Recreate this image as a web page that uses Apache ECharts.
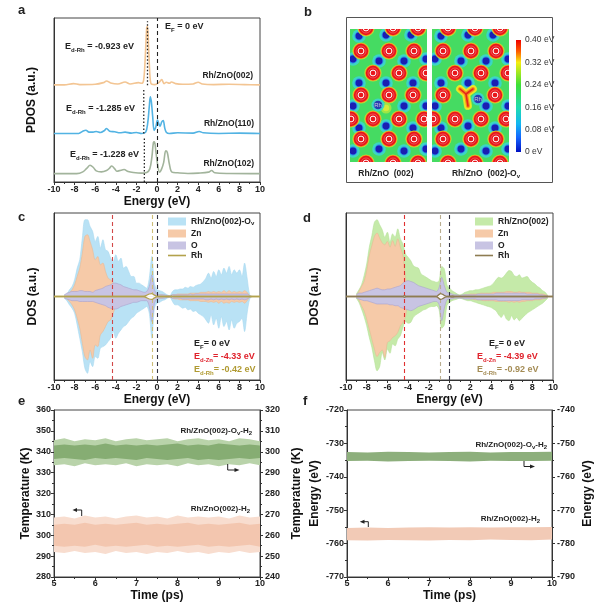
<!DOCTYPE html>
<html><head><meta charset="utf-8">
<script src="https://cdn.jsdelivr.net/npm/echarts@6/dist/echarts.min.js"></script>
<style>html,body{margin:0;padding:0;background:#fff}#main{width:599px;height:612px}</style>
</head><body><div id="main"></div>
<script>
// ---------------- DATA ----------------
// Panel a: PDOS curves [energy eV, offset intensity a.u.]
const pdos002 = [[-10,59.2],[-9,59.2],[-8.1,60],[-7.5,59.4],[-6,59.6],[-5.2,60.6],[-4.9,61.6],[-4.5,60.4],[-3.8,59.8],[-3.1,61],[-2.6,59.8],[-1.8,60.6],[-1.5,60.2],[-1.3,62],[-1.15,75],[-1.0,94],[-0.92,95],[-0.8,80],[-0.65,62],[-0.5,59.6],[-0.2,59.4],[0.2,60.8],[0.45,62.4],[0.7,60],[0.9,60.8],[1.2,60.2],[1.4,61],[1.8,60],[2.5,59.6],[3.5,59.8],[4.0,60.8],[4.4,59.8],[5.5,59.4],[7,59.6],[8.5,59.4],[10,59.2]];
const pdos110 = [[-10,29.6],[-7.6,29.6],[-7.2,31],[-6.9,31.6],[-6.6,30.4],[-6.2,30.4],[-5.9,30.8],[-5.5,30.2],[-5.1,31.4],[-4.9,32.6],[-4.6,31],[-4.1,30.6],[-3.6,30],[-3.1,30.4],[-2.5,29.8],[-2.0,30.2],[-1.5,29.6],[-1.1,30.4],[-0.9,36],[-0.75,46],[-0.65,52],[-0.55,49],[-0.42,40],[-0.28,31.5],[-0.12,33.5],[0.05,37.8],[0.2,35],[0.3,34],[0.45,36.5],[0.6,37.5],[0.75,33],[0.9,30.4],[1.2,29.6],[2,30],[3.5,29.8],[4.1,30.8],[4.5,30],[6,29.6],[8,29.8],[10,29.6]];
const pdos102 = [[-10,5.1],[-7.8,5.1],[-7.2,6.2],[-6.8,8.5],[-6.5,10.2],[-6.2,9],[-5.9,6.8],[-5.4,6.2],[-4.9,7],[-4.6,8.5],[-4.4,9.8],[-4.1,8],[-3.9,6.6],[-3.5,7.2],[-3.2,7.6],[-2.8,6.4],[-2.3,5.8],[-1.5,5.4],[-1.0,5.8],[-0.7,8],[-0.5,15],[-0.35,24],[-0.25,24.5],[-0.1,18],[0.05,11],[0.25,6],[0.45,8],[0.65,12],[0.85,19],[1.0,18],[1.2,11],[1.45,6],[2,5.6],[3,5.2],[4,5.4],[5,6],[5.3,7],[5.6,5.6],[7,5.2],[10,5.1]];
const dBandCentres = [-0.923, -1.285, -1.228];
const dBandSpans = [[59, 98], [29.6, 57], [0, 27.5]];

// Panels c, d: spin-resolved DOS on a common energy grid
const energies = [
 -9,-8.75,-8.5,-8.25, -8,-7.75,-7.5,-7.25, -7,-6.75,-6.5,-6.25, -6,-5.75,-5.5,-5.25,
 -5,-4.75,-4.5,-4.25, -4,-3.75,-3.5,-3.25, -3,-2.75,-2.5,-2.25, -2,-1.75,-1.5,-1.25,
 -1,-0.75,-0.5,-0.25, 0,0.25,0.5,0.75, 1,1.25,1.5,1.75, 2,2.25,2.5,2.75, 3,3.25,3.5,3.75,
 4,4.25,4.5,4.75, 5,5.25,5.5,5.75, 6,6.25,6.5,6.75, 7,7.25,7.5,7.75, 8,8.25,8.5,8.75, 9,9.25,9.5];
const totCUp = [0.02,0.03,0.08,0.12, 0.2,0.34,0.44,0.7, 0.92,0.92,0.84,0.78, 0.66,0.72,0.58,0.68,
 0.56,0.54,0.46,0.42, 0.5,0.42,0.46,0.34, 0.36,0.30,0.24,0.24, 0.16,0.16,0.14,0.12,
 0.1,0.22,0.48,0.16, 0.08,0.07,0.06,0.04, 0.02,0.01,0.06,0.08, 0.08,0.09,0.09,0.11, 0.1,0.12,0.11,0.13,
 0.14,0.15,0.18,0.22, 0.28,0.22,0.30,0.24, 0.32,0.26,0.34,0.28, 0.36,0.26,0.32,0.28, 0.32,0.24,0.40,0.22, 0.02,0,0];
const totCDown = [-0.02,-0.05,-0.1,-0.14, -0.2,-0.34,-0.5,-0.66, -0.86,-0.92,-0.78,-0.84, -0.72,-0.74,-0.62,-0.6,
 -0.58,-0.54,-0.5,-0.42, -0.5,-0.44,-0.4,-0.36, -0.34,-0.3,-0.26,-0.24, -0.2,-0.18,-0.16,-0.14,
 -0.12,-0.2,-0.5,-0.14, -0.08,-0.07,-0.05,-0.04, -0.02,-0.01,-0.06,-0.1, -0.1,-0.12,-0.14,-0.13, -0.16,-0.15,-0.18,-0.17,
 -0.2,-0.22,-0.24,-0.28, -0.32,-0.22,-0.34,-0.26, -0.38,-0.24,-0.36,-0.3, -0.4,-0.28,-0.38,-0.32, -0.3,-0.26,-0.42,-0.2, -0.03,0,0];
const znCUp = [0.01,0.02,0.05,0.08, 0.14,0.24,0.34,0.52, 0.72,0.74,0.66,0.56, 0.44,0.48,0.38,0.4,
 0.3,0.22,0.2,0.16, 0.1,0.08,0.07,0.06, 0.05,0.05,0.04,0.04, 0.04,0.03,0.03,0.03,
 0.03,0.05,0.1,0.04, 0.02,0.02,0.02,0.01, 0.01,0.005,0.02,0.02, 0.03,0.03,0.03,0.03, 0.03,0.04,0.04,0.04,
 0.04,0.05,0.05,0.05, 0.06,0.05,0.06,0.05, 0.06,0.05,0.07,0.05, 0.07,0.05,0.06,0.05, 0.06,0.05,0.07,0.05, 0.01,0,0];
const znCDown = [-0.01,-0.03,-0.06,-0.1, -0.16,-0.26,-0.38,-0.56, -0.72,-0.76,-0.64,-0.74, -0.58,-0.6,-0.46,-0.42,
 -0.36,-0.3,-0.28,-0.2, -0.12,-0.09,-0.07,-0.06, -0.05,-0.05,-0.04,-0.04, -0.04,-0.03,-0.03,-0.03,
 -0.03,-0.05,-0.12,-0.04, -0.02,-0.02,-0.02,-0.01, -0.01,-0.005,-0.02,-0.03, -0.03,-0.04,-0.04,-0.04, -0.04,-0.05,-0.05,-0.05,
 -0.05,-0.06,-0.06,-0.06, -0.07,-0.06,-0.07,-0.06, -0.08,-0.06,-0.08,-0.07, -0.08,-0.06,-0.07,-0.06, -0.07,-0.06,-0.08,-0.05, -0.01,0,0];
const oCUp = [0.02,0.04,0.05,0.06, 0.06,0.06,0.07,0.07, 0.06,0.06,0.06,0.05, 0.07,0.08,0.09,0.1,
 0.12,0.13,0.14,0.16, 0.16,0.15,0.14,0.12, 0.11,0.1,0.09,0.08, 0.08,0.07,0.06,0.05,
 0.06,0.12,0.26,0.08, 0.03,0.02,0.02,0.02, 0.01,0.01,0.02,0.02, 0.02,0.02,0.02,0.02, 0.02,0.03,0.02,0.03,
 0.03,0.03,0.03,0.03, 0.03,0.03,0.03,0.03, 0.03,0.03,0.03,0.03, 0.03,0.03,0.03,0.03, 0.03,0.03,0.03,0.03, 0.01,0,0];
const oCDown = [-0.02,-0.03,-0.04,-0.05, -0.05,-0.05,-0.06,-0.06, -0.06,-0.06,-0.06,-0.06, -0.07,-0.08,-0.09,-0.1,
 -0.11,-0.13,-0.14,-0.15, -0.15,-0.14,-0.12,-0.11, -0.1,-0.09,-0.08,-0.07, -0.07,-0.06,-0.05,-0.05,
 -0.05,-0.12,-0.3,-0.08, -0.03,-0.02,-0.02,-0.02, -0.01,-0.01,-0.02,-0.02, -0.02,-0.02,-0.03,-0.03, -0.03,-0.03,-0.03,-0.03,
 -0.03,-0.03,-0.03,-0.04, -0.04,-0.03,-0.04,-0.03, -0.04,-0.03,-0.04,-0.03, -0.04,-0.03,-0.04,-0.03, -0.04,-0.03,-0.04,-0.03, -0.01,0,0];
const rhCUp = [[-10,0],[-1.3,0],[-1.0,0.015],[-0.75,0.03],[-0.5,0.035],[-0.3,0.02],[-0.1,0.008],[0.1,0],[1.2,0],[1.4,0.006],[1.6,0],[10,0]];
const rhCDown = [[-10,0],[-1.3,0],[-1.0,-0.015],[-0.75,-0.03],[-0.5,-0.035],[-0.3,-0.02],[-0.1,-0.008],[0.1,0],[1.2,0],[1.4,-0.006],[1.6,0],[10,0]];

const totDUp = [0.03,0.08,0.14,0.25, 0.39,0.59,0.73,0.89, 0.92,0.86,0.80,0.71, 0.77,0.65,0.75,0.71,
 0.81,0.69,0.63,0.51, 0.47,0.43,0.37,0.35, 0.34,0.27,0.25,0.23, 0.21,0.19,0.18,0.17,
 0.19,0.36,0.33,0.14, 0.10,0.07,0.05,0.03, 0.02,0.03,0.05,0.06, 0.07,0.07,0.08,0.08, 0.09,0.1,0.11,0.12,
 0.13,0.16,0.2,0.23, 0.22,0.24,0.28,0.31, 0.3,0.25,0.24,0.26, 0.22,0.23,0.24,0.2, 0.17,0.15,0.12,0.1, 0.07,0.05,0.01];
const totDDown = [-0.02,-0.07,-0.15,-0.24, -0.35,-0.49,-0.61,-0.77, -0.89,-0.84,-0.67,-0.76, -0.63,-0.68,-0.57,-0.59,
 -0.51,-0.47,-0.37,-0.3, -0.32,-0.31,-0.25,-0.22, -0.2,-0.18,-0.16,-0.15, -0.13,-0.12,-0.12,-0.11,
 -0.16,-0.38,-0.34,-0.11, -0.07,-0.05,-0.04,-0.03, -0.02,-0.03,-0.04,-0.05, -0.05,-0.06,-0.07,-0.08, -0.09,-0.1,-0.11,-0.12,
 -0.13,-0.15,-0.17,-0.22, -0.25,-0.21,-0.27,-0.29, -0.23,-0.28,-0.25,-0.29, -0.26,-0.23,-0.2,-0.18, -0.16,-0.14,-0.12,-0.1, -0.08,-0.05,-0.02];
const znDUp = [0.01,0.06,0.12,0.18, 0.31,0.49,0.61,0.72, 0.76,0.70,0.64,0.62, 0.66,0.59,0.67,0.60,
 0.69,0.59,0.49,0.22, 0.11,0.09,0.08,0.07, 0.06,0.06,0.05,0.05, 0.04,0.04,0.04,0.04,
 0.04,0.09,0.06,0.03, 0.02,0.02,0.01,0.01, 0.01,0.01,0.02,0.02, 0.03,0.03,0.03,0.03, 0.04,0.04,0.04,0.04,
 0.04,0.05,0.05,0.05, 0.05,0.05,0.06,0.06, 0.06,0.05,0.05,0.06, 0.05,0.05,0.05,0.05, 0.04,0.04,0.04,0.03, 0.03,0.02,0.01];
const znDDown = [-0.01,-0.04,-0.11,-0.17, -0.27,-0.39,-0.51,-0.63, -0.72,-0.67,-0.64,-0.73, -0.55,-0.53,-0.49,-0.47,
 -0.43,-0.35,-0.31,-0.24, -0.06,-0.05,-0.05,-0.05, -0.05,-0.05,-0.04,-0.04, -0.04,-0.04,-0.04,-0.04,
 -0.04,-0.08,-0.06,-0.03, -0.02,-0.02,-0.01,-0.01, -0.01,-0.01,-0.02,-0.02, -0.03,-0.03,-0.04,-0.04, -0.04,-0.05,-0.05,-0.05,
 -0.05,-0.05,-0.06,-0.06, -0.06,-0.06,-0.06,-0.07, -0.06,-0.07,-0.06,-0.07, -0.06,-0.06,-0.05,-0.05, -0.05,-0.04,-0.04,-0.04, -0.03,-0.02,-0.01];
const oDUp = [0.02,0.04,0.04,0.05, 0.06,0.07,0.08,0.09, 0.10,0.09,0.08,0.08, 0.09,0.09,0.10,0.11,
 0.12,0.13,0.16,0.18, 0.19,0.18,0.17,0.15, 0.13,0.12,0.11,0.10, 0.09,0.08,0.07,0.06,
 0.11,0.23,0.13,0.05, 0.04,0.03,0.02,0.02, 0.01,0.02,0.02,0.02, 0.02,0.02,0.02,0.03, 0.03,0.03,0.03,0.03,
 0.03,0.03,0.04,0.04, 0.04,0.04,0.04,0.04, 0.04,0.04,0.04,0.04, 0.04,0.04,0.03,0.03, 0.03,0.03,0.03,0.02, 0.02,0.01,0.01];
const oDDown = [-0.02,-0.03,-0.04,-0.05, -0.05,-0.06,-0.07,-0.08, -0.09,-0.09,-0.09,-0.09, -0.09,-0.1,-0.1,-0.11,
 -0.11,-0.13,-0.14,-0.15, -0.16,-0.17,-0.16,-0.14, -0.12,-0.11,-0.1,-0.09, -0.08,-0.07,-0.06,-0.06,
 -0.1,-0.29,-0.14,-0.04, -0.03,-0.03,-0.02,-0.02, -0.02,-0.02,-0.03,-0.03, -0.03,-0.03,-0.03,-0.04, -0.04,-0.04,-0.04,-0.04,
 -0.04,-0.04,-0.04,-0.05, -0.05,-0.05,-0.05,-0.05, -0.05,-0.05,-0.05,-0.05, -0.04,-0.04,-0.04,-0.04, -0.04,-0.03,-0.03,-0.03, -0.02,-0.02,-0.01];
const rhDUp = [[-10,0],[-4.6,0],[-4.35,0.01],[-4.1,0],[-1.3,0],[-1.05,0.02],[-0.85,0.035],[-0.65,0.025],[-0.45,0.01],[-0.2,0],[0.3,0.006],[0.6,0],[10,0]];
const rhDDown = [[-10,0],[-4.6,0],[-4.35,-0.01],[-4.1,0],[-1.3,0],[-1.05,-0.02],[-0.85,-0.035],[-0.65,-0.025],[-0.45,-0.01],[-0.2,0],[0.3,-0.006],[0.6,0],[10,0]];
const dCentreC = {zn: -4.33, rh: -0.42};
const dCentreD = {zn: -4.39, rh: -0.92};

// Panel b: charge-density map features (site positions, map units)
const oxygenSites = [[1.6,-0.1],[4.3,-0.1],[6.8,-0.1],[1.1,2.2],[3.9,2.2],[6.4,2.2],[2.3,4.4],[4.9,4.4],[7.6,4.4],
 [1.1,6.6],[3.9,6.6],[6.3,6.6],[0.1,9.0],[2.3,9.0],[4.9,9.0],[7.4,9.0],[1.1,11.0],[3.9,11.0],[6.4,11.0],[1.6,13.4],[4.3,13.4],[6.8,13.4]];
const vacancySite = [3.9, 6.6];
const zincSites = [[0.9,0.7],[3.6,0.6],[6.1,0.6],[0.3,3.0],[2.9,3.2],[5.4,3.2],[7.6,3.0],[0.9,5.4],[3.6,5.4],[6.3,5.4],
 [0.3,7.7],[5.4,7.7],[7.6,7.7],[0.9,9.9],[3.6,9.7],[6.3,9.9],[0.3,12.2],[2.9,12.0],[5.4,12.2],[7.6,12.0]];
const rhSiteLeft = [2.8, 7.6];
const rhSiteRight = [4.6, 7.0];
const rhGlowLeft = [3.6, 7.9];
const vacancyArms = [[[2.8,6.0],[3.4,6.5],[4.1,6.0]], [[3.4,6.5],[3.6,7.7]]];
const colorbarMax = [0.4];

// Panel e: AIMD temperature envelopes (K)
const timesE = [5,5.25,5.5,5.75,6,6.25,6.5,6.75,7,7.25,7.5,7.75,8,8.25,8.5,8.75,9,9.25,9.5,9.75,10];
const tOvOuterTop = [305.5,306.5,305,306,305.5,306.5,305,306,306.5,305.5,306,306.5,305,306,306.5,305.5,306,305,306.5,306,305];
const tOvOuterBot = [293.5,294,293,294.5,293.5,294,293.5,294.5,293,294,293.5,294,293,294.5,293.5,294,293,294,293.5,294.5,293.5];
const tOvCoreTop = [303,303.5,303,303.5,303,304,303,303.5,303,303.5,303,303.5,304,303,303.5,303,304,303.5,303,303.5,303];
const tOvCoreBot = [296.5,297,296.5,296,297,296.5,297,296.5,296,297,296.5,296,296.5,297,296,296.5,296,296.5,297,296.5,297];
const tOuterTop = [308.5,309,308,309.5,308.5,309,308,309,309.5,308.5,309,308,309.5,308.5,309,308.5,309,308,309.5,308.5,309];
const tOuterBot = [292,291.5,292.5,291.5,292,291,292.5,291.5,292,291,292,291.5,292.5,291.5,292,291,292,291.5,292.5,291.5,292];
const tCoreTop = [305,305.5,305,306,305,305.5,305,305.5,306,305,305.5,305,305.5,306,305,305.5,305,305.5,306,305,305.5];
const tCoreBot = [295,294.5,295,294.5,295.5,294.5,295,294.5,295,295.5,294.5,295,294.5,295,295.5,294.5,295,294.5,295,295.5,294.5];

// Panel f: AIMD energy envelopes (eV)
const timesF = [5,5.5,6,6.5,7,7.5,8,8.5,9,9.5,10];
const eOvTop = [-752.6,-752.7,-752.5,-752.6,-752.7,-752.6,-752.5,-752.7,-752.6,-752.6,-752.5];
const eOvBot = [-755.3,-755.2,-755.4,-755.3,-755.2,-755.3,-755.4,-755.2,-755.3,-755.3,-755.2];
const eTop = [-755.3,-755.2,-755.3,-755.2,-755.1,-755.2,-755.1,-755.2,-755.1,-755.1,-755.0];
const eBot = [-759.0,-759.1,-758.9,-759.0,-759.1,-758.9,-759.0,-758.8,-758.9,-759.0,-758.8];

// ---------------- STYLE HELPERS ----------------
const FF = 'Liberation Sans, Arial, sans-serif';
const INK = '#222';
const axisLineS = {show:true, onZero:false, lineStyle:{color:'#333', width:1}};
const tickS = {show:true, inside:false, length:3, lineStyle:{color:'#333', width:1}};
const minorS = {show:true, splitNumber:2, length:2, lineStyle:{color:'#333', width:1}};
const labelS = {show:true, fontSize:9, fontWeight:'bold', color:INK, fontFamily:FF, margin:3};
const nameS = {fontSize:12, fontWeight:'bold', color:'#111', fontFamily:FF};
const noSplit = {show:false};

function energyX(gi){
  return {gridIndex:gi, type:'value', min:-10, max:10, interval:2, axisLine:axisLineS, axisTick:tickS, minorTick:minorS,
    axisLabel:labelS, splitLine:noSplit, name:'Energy (eV)', nameLocation:'middle', nameGap:14, nameTextStyle:nameS};
}
function timeX(gi){
  return {gridIndex:gi, type:'value', min:5, max:10, interval:1, axisLine:axisLineS, axisTick:tickS, minorTick:minorS,
    axisLabel:Object.assign({}, labelS, {margin:2}), splitLine:noSplit, name:'Time (ps)', nameLocation:'middle', nameGap:13, nameTextStyle:nameS};
}
function plainY(gi, min, max, name, gap){
  return {gridIndex:gi, type:'value', min, max, axisLine:axisLineS, axisTick:{show:false}, axisLabel:{show:false}, splitLine:noSplit,
    name, nameLocation:'middle', nameGap:gap, nameTextStyle:nameS};
}
function tickY(gi, min, max, interval, pos, name, gap, margin){
  return {gridIndex:gi, type:'value', min, max, interval, position:pos, axisLine:axisLineS, axisTick:tickS, minorTick:minorS,
    axisLabel:Object.assign({}, labelS, {margin}), splitLine:noSplit, name, nameLocation:'middle', nameGap:gap, nameTextStyle:nameS};
}
function hidden(gi, min, max, inv){ return {gridIndex:gi, type:'value', min, max, inverse:!!inv, show:false}; }

const subRich = (size, color) => ({s:{fontSize:Math.round(size*0.7), fontWeight:'bold', fontFamily:FF, fill:color, color:color, lineHeight:Math.round(size*0.55), verticalAlign:'bottom'}});
function T(x, y, text, size, color, align, weight){
  color = color || INK;
  return {type:'text', x, y, z:100, silent:true, style:{text, fontSize:size, fontWeight:weight||'bold', fontFamily:FF, fill:color,
    align:align||'left', verticalAlign:'middle', lineHeight:size+3, rich:subRich(size,color)}};
}
function arrow(line, head){
  return [
    {type:'polyline', z:100, silent:true, shape:{points:line}, style:{stroke:'#222', lineWidth:1, fill:null}},
    {type:'polygon', z:100, silent:true, shape:{points:head}, style:{fill:'#222'}}
  ];
}

// ---------------- SERIES BUILDERS ----------------
const pair = (xs, ys) => xs.map((x,i)=>[x, ys[i]]);
function dos(xi, name, ys, fill, stroke, z){
  return {type:'line', name, xAxisIndex:xi, yAxisIndex:xi, data:pair(energies, ys), smooth:0.3, symbol:'none', showSymbol:false, z,
    lineStyle:{color:stroke, width:0.6}, itemStyle:{color:fill}, areaStyle:{color:fill, opacity:1}, silent:true, animation:false};
}
function rhLine(xi, name, d, color, marks){
  const s = {type:'line', name, xAxisIndex:xi, yAxisIndex:xi, data:d, smooth:0.3, symbol:'none', showSymbol:false, z:6,
    lineStyle:{color, width:1.3}, itemStyle:{color}, areaStyle:{color:'#ffffff', opacity:1}, silent:true};
  if (marks) s.markLine = {symbol:'none', silent:true, label:{show:false}, animation:false,
    lineStyle:{type:[4,3], width:1.1}, data:marks};
  return s;
}
function band(xi, yi, xs, top, bot, color, z){
  return {type:'custom', xAxisIndex:xi, yAxisIndex:yi, clip:true, z, silent:true, data:[[xs[0], top[0]]],
    renderItem:(params, api)=>{
      const pts = [];
      for (let i=0;i<xs.length;i++) pts.push(api.coord([xs[i], top[i]]));
      for (let i=xs.length-1;i>=0;i--) pts.push(api.coord([xs[i], bot[i]]));
      return {type:'polygon', shape:{points:pts}, style:{fill:color}};
    }};
}
function sites(gi, data, kind){
  return {type:'custom', xAxisIndex:gi, yAxisIndex:gi, clip:true, silent:true, z: kind==='o'?4:3, data,
    renderItem:(params, api)=>{
      const p = api.coord([api.value(0), api.value(1)]);
      const c = (r, style) => ({type:'circle', shape:{cx:p[0], cy:p[1], r}, style});
      if (kind === 'o') return {type:'group', children:[
        c(8.6,{fill:'#b8e43a'}), c(7.9,{fill:'#f4901f'}), c(7.2,{fill:'#e8161b'}),
        c(5.0,{fill:'none', stroke:'rgba(255,200,200,0.6)', lineWidth:0.5}),
        c(2.9,{fill:'none', stroke:'#ffffff', lineWidth:1})]};
      return {type:'group', children:[
        c(6.8,{fill:'#3cd6c4'}), c(4.4,{fill:'#2a86ee'}), c(3.4,{fill:'#1a1fb2'})]};
    }};
}
function rhMark(gi, site){
  return {type:'custom', xAxisIndex:gi, yAxisIndex:gi, clip:true, silent:true, z:6, data:[site],
    renderItem:(params, api)=>{
      const p = api.coord([api.value(0), api.value(1)]);
      return {type:'group', children:[
        {type:'circle', shape:{cx:p[0], cy:p[1], r:6.5}, style:{fill:'#3cd6c4'}},
        {type:'circle', shape:{cx:p[0], cy:p[1], r:4.3}, style:{fill:'#2a3cb0'}},
        {type:'text', x:p[0], y:p[1], style:{text:'Rh', fontSize:6, fontFamily:FF, fill:'#c9c9dd', align:'center', verticalAlign:'middle'}}]};
    }};
}

// ---------------- OPTION ----------------
const gridBox = {show:true, borderColor:'#444', borderWidth:1, backgroundColor:'transparent', containLabel:false, outerBoundsMode:'none'};
const G = (o) => Object.assign({}, gridBox, o);

const legendText = {fontSize:8.5, fontWeight:'bold', color:INK, fontFamily:FF, lineHeight:9,
  rich:{s:{fontSize:6, fontWeight:'bold', color:INK, fontFamily:FF, lineHeight:5, verticalAlign:'bottom'}}};
const legendFmt = n => n.trim().replace('-Ov', '-O{s|v}');
function legend(left, top, names, icon, h, gap){
  return {left, top, orient:'vertical', itemWidth:18, itemHeight:h, itemGap:gap, icon, selectedMode:false, padding:0,
    textStyle:legendText, formatter:legendFmt, data:names};
}

const option = {
  animation:false,
  backgroundColor:'#ffffff',
  textStyle:{fontFamily:FF},
  grid:[
    G({left:54, top:18, width:206, height:164}),                        // 0 a
    G({left:350, top:29, width:77, height:133, borderWidth:0, backgroundColor:'#45db62'}), // 1 b left
    G({left:432, top:29, width:77, height:133, borderWidth:0, backgroundColor:'#45db62'}), // 2 b right
    G({left:516, top:40, width:5, height:112, show:false}),            // 3 colorbar
    G({left:54, top:213, width:206, height:167}),                       // 4 c
    G({left:346, top:213, width:207, height:167}),                      // 5 d
    G({left:54, top:410, width:206, height:167}),                       // 6 e
    G({left:347, top:410, width:205, height:167})                       // 7 f
  ],
  xAxis:[
    energyX(0), hidden(1,0,7.7), hidden(2,0,7.7),
    {gridIndex:3, type:'category', data:['scale'], show:false},
    energyX(4), energyX(5), timeX(6), timeX(7)
  ],
  yAxis:[
    plainY(0, 0, 100, 'PDOS (a.u.)', 16),
    hidden(1,0,13.3,true), hidden(2,0,13.3,true),
    {gridIndex:3, type:'value', min:0, max:0.4, interval:0.08, position:'right', axisLine:{show:false}, axisTick:{show:false}, splitLine:noSplit,
      axisLabel:{fontSize:8.5, color:'#333', fontFamily:FF, margin:4, formatter:v => v===0 ? '0 eV' : v.toFixed(2)+' eV'}},
    plainY(4, -1, 1, 'DOS (a.u.)', 15),
    plainY(5, -1, 1, 'DOS (a.u.)', 25),
    tickY(6, 280, 360, 10, 'left', 'Temperature (K)', 20, 3),
    tickY(6, 240, 320, 10, 'right', 'Temperature (K)', 31, 5),
    tickY(7, -770, -720, 10, 'left', 'Energy (eV)', 26, 3),
    tickY(7, -790, -740, 10, 'right', 'Energy (eV)', 30, 5)
  ],
  legend:[
    legend(168, 217, ['Rh/ZnO(002)-Ov','Zn','O'], 'rect', 8, 3),
    legend(168, 251, ['Rh'], 'rect', 1.6, 0),
    legend(475, 217, ['Rh/ZnO(002)','Zn ','O '], 'rect', 8, 3),
    legend(475, 251, ['Rh '], 'rect', 1.6, 0)
  ],
  series:[
    // ---- a ----
    {type:'line', xAxisIndex:0, yAxisIndex:0, data:pdos002, smooth:0.35, symbol:'none', lineStyle:{color:'#f3c593', width:1.6}, silent:true,
      markLine:{symbol:'none', silent:true, label:{show:false}, lineStyle:{type:[4,3], color:'#222', width:1.1}, data:[{xAxis:0}]}},
    {type:'line', xAxisIndex:0, yAxisIndex:0, data:pdos110, smooth:0.35, symbol:'none', lineStyle:{color:'#52b3e3', width:1.6}, silent:true},
    {type:'line', xAxisIndex:0, yAxisIndex:0, data:pdos102, smooth:0.35, symbol:'none', lineStyle:{color:'#a2b49c', width:1.6}, silent:true},
    ...dBandCentres.map((c,i)=>({type:'line', xAxisIndex:0, yAxisIndex:0, data:[[c, dBandSpans[i][0]],[c, dBandSpans[i][1]]], symbol:'none', silent:true,
      lineStyle:{type:[1.5,2], color:'#222', width:1.3}})),
    // ---- b ----
    sites(1, zincSites, 'zn'), sites(1, oxygenSites, 'o'),
    {type:'custom', xAxisIndex:1, yAxisIndex:1, clip:true, silent:true, z:5, data:[rhGlowLeft],
      renderItem:(p, api)=>{ const c = api.coord([api.value(0), api.value(1)]);
        return {type:'group', children:[{type:'circle', shape:{cx:c[0], cy:c[1], r:5.5}, style:{fill:'#9be645'}},
          {type:'circle', shape:{cx:c[0], cy:c[1], r:3.2}, style:{fill:'#d6ea3a'}}]}; }},
    rhMark(1, rhSiteLeft),
    sites(2, zincSites, 'zn'),
    sites(2, oxygenSites.filter(s => !(s[0]===vacancySite[0] && s[1]===vacancySite[1])), 'o'),
    {type:'custom', xAxisIndex:2, yAxisIndex:2, clip:true, silent:true, z:5, data:[vacancySite],
      renderItem:(p, api)=>{
        const kids = [];
        [[8,'#c9e83a'],[6.5,'#f2e61e'],[4,'#f49020'],[1.6,'#e5281a']].forEach(([w,col])=>{
          vacancyArms.forEach(arm => kids.push({type:'polyline', shape:{points:arm.map(q=>api.coord(q))},
            style:{stroke:col, lineWidth:w, fill:null, lineCap:'round', lineJoin:'round'}}));
        });
        return {type:'group', children:kids}; }},
    rhMark(2, rhSiteRight),
    {type:'bar', xAxisIndex:3, yAxisIndex:3, data:colorbarMax, barWidth:'100%', silent:true,
      itemStyle:{color:{type:'linear', x:0, y:0, x2:0, y2:1, colorStops:[
        {offset:0, color:'#f00000'},{offset:0.1, color:'#ff5a00'},{offset:0.2, color:'#f6ee10'},{offset:0.4, color:'#3ee036'},
        {offset:0.6, color:'#1fdcae'},{offset:0.75, color:'#12b6f2'},{offset:0.87, color:'#1466ff'},{offset:1, color:'#0010c2'}]}}},
    // ---- c ----
    dos(4, 'Rh/ZnO(002)-Ov', totCUp, '#b9e2f5', '#a8d8f0', 2),
    dos(4, 'Rh/ZnO(002)-Ov', totCDown, '#b9e2f5', '#a8d8f0', 2),
    dos(4, 'Zn', znCUp, '#f6caa8', '#eab892', 3),
    dos(4, 'Zn', znCDown, '#f6caa8', '#eab892', 3),
    dos(4, 'O', oCUp, '#c8c4e3', '#a9a3cf', 4),
    dos(4, 'O', oCDown, '#c8c4e3', '#a9a3cf', 4),
    rhLine(4, 'Rh', rhCDown, '#b3a24c'),
    rhLine(4, 'Rh', rhCUp, '#b3a24c', [
      {xAxis:dCentreC.zn, lineStyle:{color:'#d24848'}}, {xAxis:dCentreC.rh, lineStyle:{color:'#cdbd78'}}, {xAxis:0, lineStyle:{color:'#333344'}}]),
    // ---- d ----
    dos(5, 'Rh/ZnO(002)', totDUp, '#c5eaa9', '#b5e197', 2),
    dos(5, 'Rh/ZnO(002)', totDDown, '#c5eaa9', '#b5e197', 2),
    dos(5, 'Zn ', znDUp, '#f6caa8', '#eab892', 3),
    dos(5, 'Zn ', znDDown, '#f6caa8', '#eab892', 3),
    dos(5, 'O ', oDUp, '#c8c4e3', '#a9a3cf', 4),
    dos(5, 'O ', oDDown, '#c8c4e3', '#a9a3cf', 4),
    rhLine(5, 'Rh ', rhDDown, '#8e7c52'),
    rhLine(5, 'Rh ', rhDUp, '#8e7c52', [
      {xAxis:dCentreD.zn, lineStyle:{color:'#e03030'}}, {xAxis:dCentreD.rh, lineStyle:{color:'#b9ae90'}}, {xAxis:0, lineStyle:{color:'#333344'}}]),
    // ---- e ----
    band(6, 7, timesE, tOvOuterTop, tOvOuterBot, '#b9d3aa', 2),
    band(6, 7, timesE, tOvCoreTop, tOvCoreBot, '#86ad73', 3),
    band(6, 6, timesE, tOuterTop, tOuterBot, '#f8ddcf', 2),
    band(6, 6, timesE, tCoreTop, tCoreBot, '#f3c6af', 3),
    // ---- f ----
    band(7, 9, timesF, eOvTop, eOvBot, '#8daf7c', 2),
    band(7, 8, timesF, eTop, eBot, '#f2cab6', 2)
  ],
  graphic:[
    // panel letters
    T(18, 10, 'a', 13), T(304, 12, 'b', 13), T(18, 217, 'c', 13), T(303, 218, 'd', 13), T(18, 401, 'e', 13), T(303, 401, 'f', 13),
    // panel a annotations
    T(165, 27, 'E{s|F} = 0 eV', 9), T(65, 47, 'E{s|d-Rh} = -0.923 eV', 9), T(253, 76, 'Rh/ZnO(002)', 8.5, INK, 'right'),
    T(66, 109, 'E{s|d-Rh} = -1.285 eV', 9), T(254, 124, 'Rh/ZnO(110)', 8.5, INK, 'right'),
    T(70, 155, 'E{s|d-Rh} = -1.228 eV', 9), T(254, 164, 'Rh/ZnO(102)', 8.5, INK, 'right'),
    // panel b frame and captions
    {type:'rect', z:90, silent:true, shape:{x:346.5, y:17.5, width:206, height:165}, style:{fill:null, stroke:'#555', lineWidth:1}},
    T(386, 174, 'Rh/ZnO  (002)', 8.5, INK, 'center'), T(486, 174, 'Rh/ZnO  (002)-O{s|v}', 8.5, INK, 'center'),
    // panel c annotations
    T(194, 344, 'E{s|F}= 0 eV', 9), T(194, 357, 'E{s|d-Zn}= -4.33 eV', 9, '#e0222c'), T(194, 370, 'E{s|d-Rh}= -0.42 eV', 9, '#b09a32'),
    // panel d annotations
    T(489, 344, 'E{s|F}= 0 eV', 9), T(477, 357, 'E{s|d-Zn}= -4.39 eV', 9, '#e0222c'), T(477, 370, 'E{s|d-Rh}= -0.92 eV', 9, '#a48c55'),
    // panel e annotations
    T(252, 431, 'Rh/ZnO(002)-O{s|v}-H{s|2}', 8, INK, 'right'), T(250, 509, 'Rh/ZnO(002)-H{s|2}', 8, INK, 'right'),
    ...arrow([[227.7,464],[227.7,470],[236,470]], [[239.5,470],[234.5,468],[234.5,472]]),
    ...arrow([[81.7,516],[81.7,510],[75.5,510]], [[72.5,510],[77,508],[77,512]]),
    // panel f annotations
    T(547, 445, 'Rh/ZnO(002)-O{s|v}-H{s|2}', 8, INK, 'right'), T(540, 519, 'Rh/ZnO(002)-H{s|2}', 8, INK, 'right'),
    ...arrow([[524,461],[524,466.5],[531.5,466.5]], [[535,466.5],[530,464.5],[530,468.5]]),
    ...arrow([[368.3,527],[368.3,521.7],[363,521.7]], [[359.8,521.7],[364.5,519.7],[364.5,523.7]])
  ]
};

const chart = echarts.init(document.getElementById('main'), null, {renderer:'canvas'});
chart.setOption(option);
</script>
</body></html>
